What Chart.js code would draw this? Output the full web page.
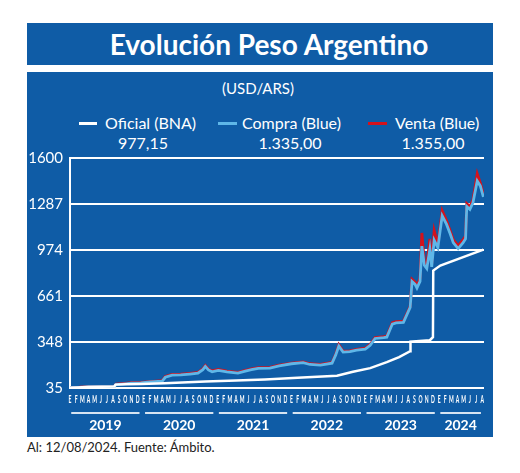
<!DOCTYPE html>
<html>
<head>
<meta charset="utf-8">
<script src="https://cdn.jsdelivr.net/npm/chart.js@4.4.1/dist/chart.umd.min.js"></script>
<style>
body{margin:0;background:#fff;width:520px;height:473px;position:relative;overflow:hidden;font-family:Lato,"Open Sans",sans-serif}
.box{position:absolute;left:27px;width:466px;background:#0f5ca6}
#head{top:23px;height:42px;color:#fff;font-weight:700;font-size:28px;line-height:42px;text-align:center;padding-left:18px;box-sizing:border-box}
#panel{top:72px;height:365px}
#unit{position:absolute;top:79px;left:27px;width:462px;text-align:center;color:#fff;font-size:15px;line-height:18px}
.lg{position:absolute;color:#fff;font-size:16px;line-height:18px;white-space:nowrap}
.sw{position:absolute;height:3px}
.val{position:absolute;color:#fff;font-size:16px;line-height:18px;text-align:center;width:100px}
#wrap{position:absolute;left:27px;top:142px;width:466px;height:295px}
#foot{position:absolute;left:27px;top:439px;font-size:13px;line-height:17px;color:#222}
</style>
</head>
<body>
<div class="box" id="head">Evolución Peso Argentino</div>
<div class="box" id="panel"></div>
<div id="unit">(USD/ARS)</div>

<div class="sw" style="left:79px;top:122px;width:18px;background:#fff"></div>
<div class="lg" style="left:105px;top:114px">Oficial (BNA)</div>
<div class="val" style="left:93px;top:134px">977,15</div>

<div class="sw" style="left:218px;top:122px;width:19px;background:#5fb7e8"></div>
<div class="lg" style="left:242px;top:114px">Compra (Blue)</div>
<div class="val" style="left:240px;top:134px">1.335,00</div>

<div class="sw" style="left:368px;top:122px;width:19px;background:#d4121c"></div>
<div class="lg" style="left:395px;top:114px">Venta (Blue)</div>
<div class="val" style="left:383px;top:134px">1.355,00</div>

<div id="wrap"><canvas id="chart" width="466" height="295"></canvas></div>
<div id="foot">Al: 12/08/2024. Fuente: Ámbito.</div>

<script>
// month letters (Spanish) and years for the x axis
const monthLetters = ['E','F','M','A','M','J','J','A','S','O','N','D'];
const years = ['2019','2020','2021','2022','2023','2024'];
const monthCount = 68; // ene 2019 .. ago 2024
const yTicks = [35, 348, 661, 974, 1287, 1600];

// x = month index (0 = ene 2019)
const oficialX = [0, 3, 7.2, 7.4, 9, 11.5, 15.4, 22, 27, 31.7, 37, 43.4, 46, 48.8, 51.5, 53.5, 55.3, 55.35, 58.5, 59.0, 59.05, 60.2, 67.2];
const oficial  = [37, 42, 45, 58, 60, 63, 68, 80, 86, 93, 104, 118, 145, 170, 211, 245, 285, 350, 360, 381, 834, 868, 977];

const blueX = [0, 1.5, 3, 4.5, 6, 7.2, 7.5, 8.5, 10, 11.5, 13, 15, 15.5, 16.6, 18, 19.5, 20.8, 21.6, 22, 22.5, 23.1,
  24.1, 25.5, 27.3, 28.5, 29.5, 30.6, 32.5, 34, 36, 37.9, 39, 40.7, 42.6, 43.2, 43.7, 44.4, 45.5, 46.6, 48,
  48.8, 49.6, 51, 51.5, 52.4, 53, 54.2, 55.3, 55.6, 56.1, 56.4, 56.9, 57.2, 57.6, 58, 58.5, 58.8, 59.2, 59.8,
  60.5, 61.2, 61.8, 62.3, 63.1, 63.9, 64.3, 64.5, 65, 65.5, 66.2, 66.7, 67.2];
const compra = [37, 39, 44, 45, 44, 46, 58, 62, 68, 70, 76, 82, 108, 123, 124, 130, 136, 160, 182, 158, 145,
  155, 145, 136, 150, 160, 168, 170, 185, 200, 208, 195, 191, 204, 260, 320, 279, 282, 292, 300,
  326, 372, 378, 381, 470, 478, 482, 584, 760, 740, 715, 760, 1000, 870, 848, 980, 860, 1040, 990,
  1207, 1150, 1085, 1024, 984, 1024, 1050, 1270, 1250, 1295, 1444, 1410, 1335];
const venta = [38, 40, 46, 46, 45, 47, 61, 65, 72, 73, 79, 85, 113, 128, 129, 135, 141, 166, 188, 164, 151,
  161, 150, 141, 155, 165, 173, 176, 190, 205, 213, 200, 196, 209, 266, 330, 285, 288, 298, 306,
  332, 378, 384, 388, 480, 486, 490, 590, 775, 755, 730, 780, 1090, 890, 870, 1050, 880, 1105, 1010,
  1241, 1175, 1105, 1044, 1004, 1044, 1070, 1290, 1270, 1315, 1492, 1430, 1355];

function pts(xs, ys) {
  return xs.map((x, i) => ({x: x, y: ys[i]}));
}

// month letters + year brackets under the plot
const axisLabels = {
  id: 'axisLabels',
  afterDraw(chart) {
    const ctx = chart.ctx;
    const xs = chart.scales.x;
    const base = chart.chartArea.bottom;
    ctx.save();
    ctx.fillStyle = '#fff';
    ctx.textAlign = 'center';
    ctx.textBaseline = 'middle';
    ctx.font = 'bold 12px Lato';
    for (let i = 0; i < monthCount; i++) {
      const px = xs.getPixelForValue(i);
      ctx.save();
      ctx.translate(px, base + 11);
      ctx.scale(0.42, 1);
      ctx.fillText(monthLetters[i % 12], 0, 0);
      ctx.restore();
    }
    ctx.strokeStyle = '#d6e4f2';
    ctx.lineWidth = 2;
    ctx.font = 'bold 14px Lato';
    years.forEach((yr, i) => {
      const a = xs.getPixelForValue(i * 12 + 0.2);
      const b = xs.getPixelForValue(Math.min(i * 12 + 11.3, monthCount - 1.2));
      ctx.beginPath();
      ctx.moveTo(a, base + 25);
      ctx.lineTo(b, base + 25);
      ctx.stroke();
      ctx.fillText(yr, (a + b) / 2, base + 37);
    });
    ctx.restore();
  }
};

new Chart(document.getElementById('chart'), {
  type: 'line',
  data: {
    datasets: [
      {label: 'Oficial (BNA)', data: pts(oficialX, oficial), borderColor: '#fff', borderWidth: 2.5, order: 0},
      {label: 'Compra (Blue)', data: pts(blueX, compra), borderColor: '#5fb7e8', borderWidth: 2.8, order: 1},
      {label: 'Venta (Blue)', data: pts(blueX, venta), borderColor: '#d4121c', borderWidth: 2.8, order: 2}
    ]
  },
  options: {
    responsive: false,
    animation: false,
    layout: {padding: {top: 9, right: 9, left: 0, bottom: 0}},
    elements: {point: {radius: 0}, line: {tension: 0}},
    plugins: {legend: {display: false}, tooltip: {enabled: false}},
    scales: {
      x: {
        type: 'linear', min: 0, max: 67.3,
        grid: {display: false}, border: {display: false},
        ticks: {display: false},
        afterFit(s) { s.height = 49; }
      },
      y: {
        min: 35, max: 1600,
        afterBuildTicks(s) { s.ticks = yTicks.map(v => ({value: v})); },
        afterFit(s) { s.width = 43; },
        grid: {color: '#fff', lineWidth: 2, drawTicks: false},
        border: {color: '#fff', width: 2},
        ticks: {color: '#fff', font: {family: 'Lato', size: 15}, padding: 7, callback: v => String(v)}
      }
    }
  },
  plugins: [axisLabels]
});
</script>
</body>
</html>
